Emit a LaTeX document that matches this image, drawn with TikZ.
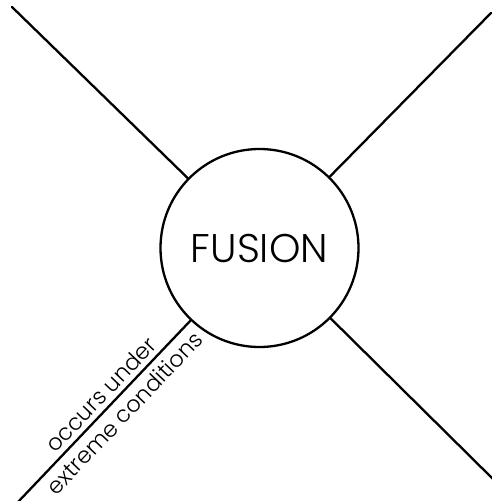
\documentclass[tikz,border=0pt]{standalone}
\usepackage{fontspec}
\IfFontExistsTF{Poppins Light}{\setmainfont{Poppins Light}}{\setmainfont{Poppins}}
\begin{document}
\begin{tikzpicture}[x=1pt,y=-1pt,
  ln/.style={line width=2.3pt, line cap=round},
  hub/.style={circle, draw, line width=2.3pt, minimum size=198pt, inner sep=0pt, font=\fontsize{40}{42}\selectfont},
  lbl/.style={font=\fontsize{22.5}{24}\selectfont, inner sep=0pt}]
\useasboundingbox (0,0) rectangle (492,501);
\node[hub] (c) at (259.5,248) {FUSION};
\coordinate (tl) at (12,7);
\coordinate (tr) at (491,13);
\coordinate (br) at (493,479);
\coordinate (bl) at (18,502);
\draw[ln] (tl) -- (c);
\draw[ln] (tr) -- (c);
\draw[ln] (br) -- (c);
\draw[ln] (bl) -- (c)
  node[lbl, pos=0.54, sloped, above=4.5pt] {occurs under}
  node[lbl, pos=0.55, sloped, below=6pt] {extreme conditions};
\end{tikzpicture}
\end{document}
